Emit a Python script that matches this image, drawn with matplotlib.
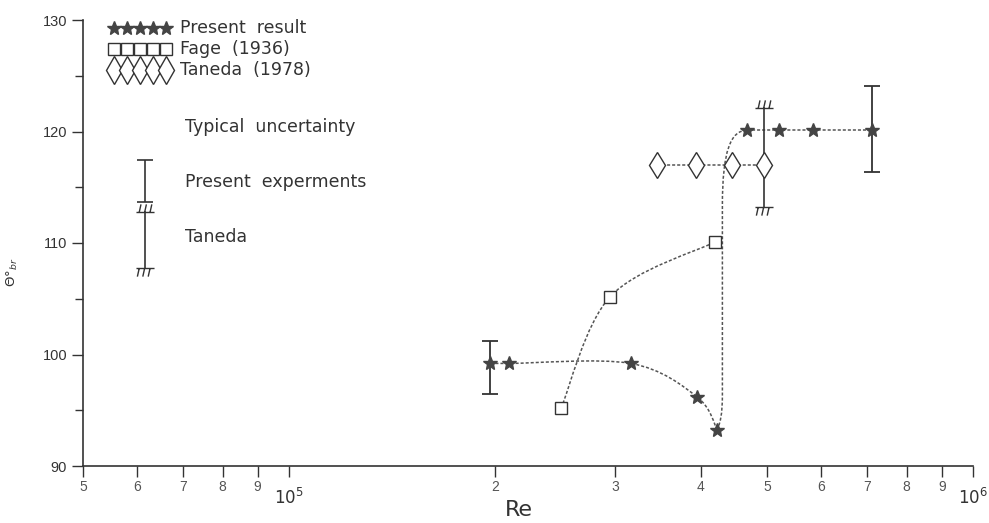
import numpy as np
import matplotlib
matplotlib.use("Agg")
import matplotlib.pyplot as plt
from matplotlib.path import Path
from matplotlib.patches import PathPatch
from matplotlib.ticker import FixedLocator, FixedFormatter
import matplotlib.transforms as mtransforms

# data
present_re = [1.97e5, 2.10e5, 3.16e5, 3.95e5, 4.23e5, 4.67e5, 5.20e5, 5.84e5, 7.12e5]
present_theta = [99.2, 99.2, 99.2, 96.2, 93.2, 120.1, 120.1, 120.1, 120.1]
fage_re = [2.50e5, 2.95e5, 4.20e5]
fage_theta = [95.2, 105.2, 110.1]
taneda_re = [3.45e5, 3.94e5, 4.44e5, 4.95e5]
taneda_theta = [117.0, 117.0, 117.0, 117.0]

# uncertainty bars (Re, low, high)
present_err = [(1.97e5, 96.5, 101.2), (7.12e5, 116.4, 124.1)]
taneda_err = [(4.95e5, 113.2, 122.1)]

xminor = [5e4, 6e4, 7e4, 8e4, 9e4, 2e5, 3e5, 4e5, 5e5, 6e5, 7e5, 8e5, 9e5]
xminor_labels = ["5", "6", "7", "8", "9", "2", "3", "4", "5", "6", "7", "8", "9"]
xmajor = [1e5, 1e6]
xmajor_labels = ["$10^5$", "$10^6$"]

series_names = ["Present  result", "Fage  (1936)", "Taneda  (1978)"]

ink = "#333333"
dash = "#555555"

fig = plt.figure(figsize=(9.89, 5.23), dpi=100)
ax = fig.add_axes([83 / 989, 57 / 523, 890 / 989, 446 / 523])
ax.set_xscale("log")
ax.set_xlim(5e4, 1e6)
ax.set_ylim(90, 130)

for s in ["top", "right"]:
    ax.spines[s].set_visible(False)
for s in ["left", "bottom"]:
    ax.spines[s].set_color(ink)
    ax.spines[s].set_linewidth(1.2)

ax.xaxis.set_major_locator(FixedLocator(xmajor))
ax.xaxis.set_major_formatter(FixedFormatter(xmajor_labels))
ax.xaxis.set_minor_locator(FixedLocator(xminor))
ax.xaxis.set_minor_formatter(FixedFormatter(xminor_labels))
ax.set_yticks([90, 100, 110, 120, 130])
ax.set_yticks([95, 105, 115, 125], minor=True)
ax.tick_params(axis="x", which="major", length=8, width=1, color=ink,
               labelsize=12, pad=8, labelcolor=ink)
ax.tick_params(axis="x", which="minor", length=8, width=1, color=ink,
               labelsize=10, pad=2, labelcolor="#555555")
ax.tick_params(axis="y", which="major", length=8, width=1, color=ink,
               labelsize=10.5, labelcolor=ink)
ax.tick_params(axis="y", which="minor", length=6, width=1, color=ink)
for lab in ax.get_xticklabels(minor=True) + ax.get_yticklabels():
    lab.set_family("Liberation Sans")

fig.text(519 / 989, 1 - 510 / 523, "Re", fontsize=16, color=ink,
         ha="center", va="center")
fig.text(12 / 989, 1 - 272 / 523, r"$\Theta$°$_{br}$", rotation=90,
         fontsize=9.5, color=ink, ha="center", va="center")

# smooth dashed guide curves, built in axes-fraction space
asp = 446 / 890


def to_ax(re, th):
    u = (np.log10(re) - np.log10(5e4)) / np.log10(20)
    v = (np.asarray(th) - 90) / 40 * asp
    return np.column_stack([u, v])


def catmull(pts):
    verts = [pts[0]]
    codes = [Path.MOVETO]
    n = len(pts)
    for i in range(n - 1):
        p0 = pts[max(i - 1, 0)]
        p1 = pts[i]
        p2 = pts[i + 1]
        p3 = pts[min(i + 2, n - 1)]
        c1 = p1 + (p2 - p0) / 6
        c2 = p2 - (p3 - p1) / 6
        verts += [c1, c2, p2]
        codes += [Path.CURVE4] * 3
    return verts, codes


def draw(verts, codes):
    v = np.array(verts, dtype=float)
    v[:, 1] = v[:, 1] / asp
    ax.add_patch(PathPatch(Path(v, codes), transform=ax.transAxes, fill=False,
                           edgecolor=dash, lw=1.1, linestyle=(0, (2, 1.3)),
                           zorder=2))


pp = to_ax(present_re, present_theta)
v, c = catmull(pp[:5])
draw(v, c)
# sharp, almost vertical rise after the minimum
a, b = pp[4], pp[5]
d = b - a


def frac(fx, fy):
    return a + d * [fx, fy]


draw([a, frac(0.1, 0.03), frac(0.17, 0.05), frac(0.17, 0.12),
      frac(0.17, 0.75),
      frac(0.17, 0.93), frac(0.45, 1.0), b],
     [Path.MOVETO, Path.CURVE4, Path.CURVE4, Path.CURVE4, Path.LINETO,
      Path.CURVE4, Path.CURVE4, Path.CURVE4])
draw(list(pp[5:]), [Path.MOVETO] + [Path.LINETO] * 3)

v, c = catmull(to_ax(fage_re, fage_theta))
draw(v, c)
tp = to_ax(taneda_re, taneda_theta)
draw(list(tp), [Path.MOVETO] + [Path.LINETO] * (len(tp) - 1))

# markers
star_kw = dict(ls="none", marker="*", color="#444444", mec="#444444")
sq_kw = dict(ls="none", marker="s", mfc="white", mec=ink, mew=1)
dia_kw = dict(ls="none", marker="d", mfc="white", mec=ink, mew=1)
ax.plot(present_re, present_theta, ms=10, zorder=4, **star_kw)
ax.plot(fage_re, fage_theta, ms=8.5, zorder=4, **sq_kw)
ax.plot(taneda_re, taneda_theta, ms=13, zorder=4, **dia_kw)

# hatched end caps for Taneda uncertainty
top_cap = Path([(-1, 0), (1, 0), (-0.7, 0), (-0.5, 0.9), (-0.1, 0), (0.1, 0.9),
                (0.5, 0), (0.7, 0.9)],
               [Path.MOVETO, Path.LINETO] * 4)
bot_cap = Path([(-1, 0), (1, 0), (-0.7, 0), (-0.9, -0.9), (-0.1, 0), (-0.3, -0.9),
                (0.5, 0), (0.3, -0.9)],
               [Path.MOVETO, Path.LINETO] * 4)

for re, lo, hi in present_err:
    ax.errorbar([re], [(lo + hi) / 2], yerr=[[(hi - lo) / 2], [(hi - lo) / 2]],
                fmt="none", ecolor=ink, elinewidth=1.3, capsize=6, capthick=1.3,
                zorder=3)
for re, lo, hi in taneda_err:
    ax.plot([re, re], [lo, hi], color=ink, lw=1.2, zorder=3)
    ax.plot([re], [hi], ls="none", marker=top_cap, ms=13, mec=ink, mew=1)
    ax.plot([re], [lo], ls="none", marker=bot_cap, ms=13, mec=ink, mew=1)

# typical uncertainty key
trans = mtransforms.blended_transform_factory(ax.transAxes, ax.transData)
kx = (145 - 83) / 890
ax.errorbar([kx], [(117.4 + 113.7) / 2], yerr=[[1.85], [1.85]], fmt="none",
            ecolor=ink, elinewidth=1.2, capsize=6, capthick=1.2, transform=trans)
ax.plot([kx, kx], [107.8, 112.8], color=ink, lw=1.2, transform=trans)
ax.plot([kx], [112.8], ls="none", marker=top_cap, ms=13, mec=ink, mew=1,
        transform=trans)
ax.plot([kx], [107.8], ls="none", marker=bot_cap, ms=13, mec=ink, mew=1,
        transform=trans)

tx = (185 - 83) / 890
key_font = dict(fontsize=12.5, color=ink, va="center")
ax.text(tx, 120.4, "Typical  uncertainty", transform=trans, **key_font)
ax.text(tx, 115.5, "Present  experments", transform=trans, **key_font)
ax.text(tx, 110.5, "Taneda", transform=trans, **key_font)

# series key: five touching symbols per row
kxs = np.linspace((114 - 83) / 890, (166 - 83) / 890, 5)
rows = [(466 - 28) / 446, (466 - 49) / 446, (466 - 70) / 446]
key_styles = [dict(ms=10, **star_kw), dict(ms=9, **sq_kw), dict(ms=14, **dia_kw)]
for name, ry, kw in zip(series_names, rows, key_styles):
    ax.plot(kxs, [ry] * 5, transform=ax.transAxes, clip_on=False, **kw)
    ax.text((180 - 83) / 890, ry, name, transform=ax.transAxes, fontsize=12.5,
            color=ink, va="center", ha="left")

fig.savefig("out.png", dpi=100, facecolor="white")
